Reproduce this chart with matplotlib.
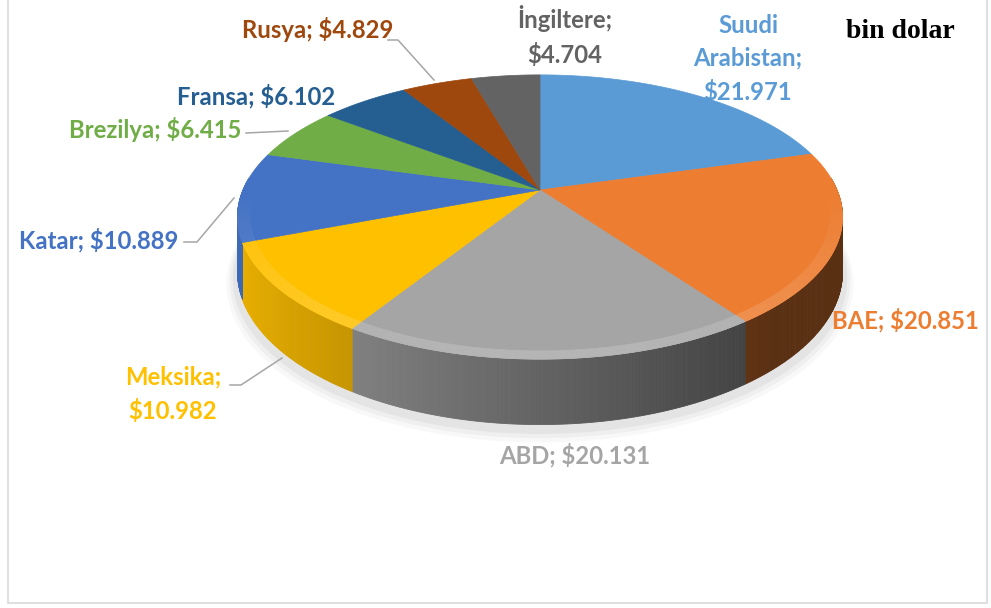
import matplotlib.pyplot as plt
from matplotlib.patches import Polygon, Rectangle
import numpy as np
import matplotlib.colors as mcolors

# --- DATA ---
countries = ['Suudi Arabistan', 'BAE', 'ABD', 'Meksika', 'Katar',
             'Brezilya', 'Fransa', 'Rusya', 'İngiltere']
values = [21.971, 20.851, 20.131, 10.982, 10.889, 6.415, 6.102, 4.829, 4.704]
label_texts = ['Suudi\nArabistan;\n$21.971', 'BAE; $20.851', 'ABD; $20.131',
               'Meksika;\n$10.982', 'Katar; $10.889', 'Brezilya; $6.415',
               'Fransa; $6.102', 'Rusya; $4.829', 'İngiltere;\n$4.704']
unit_text = 'bin dolar'

# --- STYLE / LAYOUT (pixel space) ---
colors = ['#5B9BD5', '#ED7D31', '#A5A5A5', '#FFC000', '#4472C4',
          '#70AD47', '#255E91', '#9E480E', '#636363']
label_xy = [(748, 59), (905, 320), (575, 455), (173, 394), (99, 240),
            (155, 130), (256, 96), (318, 30), (565, 36)]
leaders = {
    'Rusya': [(388, 40), (398, 40), (434, 80)],
    'Brezilya': [(246, 133), (288, 131)],
    'Katar': [(184, 242), (197, 242), (234, 198)],
    'Meksika': [(230, 385), (241, 385), (282, 358)],
}
W, H = 991, 608
CX, CY = 540, 190      # pie centre on screen
RX, RY = 297, 137      # radii of the top face
K = 0.19               # perspective strength
DEPTH = 53             # thickness of the pie


def proj(a_deg, r=1.0, z=0.0):
    a = np.radians(a_deg)
    s = 1.0 / (1.0 + K * r * np.sin(a))
    x = CX + RX * r * np.cos(a) * s
    y = CY - RY * r * np.sin(a) * s + z * DEPTH * s
    return x, y


def shade(c, f):
    rgb = np.array(mcolors.to_rgb(c))
    return tuple(np.clip(rgb * f, 0, 1))


def lighten(c, f):
    rgb = np.array(mcolors.to_rgb(c))
    return tuple(rgb + (1 - rgb) * f)


# slice angles, clockwise from 12 o'clock
fr = np.array(values) / sum(values)
ends = 90 - np.cumsum(fr) * 360
starts = np.concatenate([[90], ends[:-1]])

fig = plt.figure(figsize=(W / 100, H / 100), dpi=100)
ax = fig.add_axes([0, 0, 1, 1])
ax.set_xlim(0, W)
ax.set_ylim(H, 0)
ax.axis('off')

# chart frame
ax.add_patch(Rectangle((8, -5), 979, 608, fill=False, edgecolor='#D9D9D9', lw=1.2))

# soft shadow below the pie
full = np.linspace(0, 360, 200)
for grow, dy, al in [(1.035, 10, 0.05), (1.025, 8, 0.07), (1.015, 6, 0.09)]:
    xs, ys = proj(full, grow, 1.0)
    ax.add_patch(Polygon(np.column_stack([xs, ys + dy]), closed=True,
                         facecolor='#808080', edgecolor='none', alpha=al, zorder=1))

# sides (front half), thin strips for a horizontal gradient
for c, a0, a1 in zip(colors, starts, ends):
    lo, hi = max(a1, -185), min(a0, 5)
    if lo >= hi:
        continue
    angs = np.linspace(hi, lo, max(int((hi - lo) * 2), 2))
    for b0, b1 in zip(angs[:-1], angs[1:]):
        xt0, yt0 = proj(b0)
        xt1, yt1 = proj(b1)
        xb0, yb0 = proj(b0, 1.0, 1.0)
        xb1, yb1 = proj(b1, 1.0, 1.0)
        m = np.radians((b0 + b1) / 2)
        f = np.clip(0.6 - 0.33 * np.cos(m), 0.38, 0.92)
        col = shade(c, f)
        ax.add_patch(Polygon([(xt0, yt0), (xt1, yt1), (xb1, yb1), (xb0, yb0)],
                             closed=True, facecolor=col, edgecolor=col, lw=0.6, zorder=2))

# top faces
for c, a0, a1 in zip(colors, starts, ends):
    angs = np.linspace(a0, a1, 120)
    xs, ys = proj(angs)
    pts = np.column_stack([np.concatenate([[CX], xs]), np.concatenate([[CY], ys])])
    ax.add_patch(Polygon(pts, closed=True, facecolor=c, edgecolor=c, lw=0.5, zorder=3))
    # bevel highlight along the front rim
    lo, hi = max(a1, -185), min(a0, 5)
    if lo < hi:
        angs = np.linspace(hi, lo, max(int((hi - lo) * 2), 2))
        for b0, b1 in zip(angs[:-1], angs[1:]):
            m = np.radians((b0 + b1) / 2)
            k = max(-np.sin(m), 0)
            col = lighten(c, 0.18 * k)
            x0o, y0o = proj(b0)
            x1o, y1o = proj(b1)
            x0i, y0i = proj(b0, 0.96)
            x1i, y1i = proj(b1, 0.96)
            ax.add_patch(Polygon([(x0o, y0o), (x1o, y1o), (x1i, y1i), (x0i, y0i)],
                                 closed=True, facecolor=col, edgecolor=col, lw=0.5, zorder=4))

# labels
for name, txt, (x, y), c in zip(countries, label_texts, label_xy, colors):
    ax.text(x, y, txt, ha='center', va='center', color=c, fontsize=17.2,
            fontweight='bold', family='Lato', linespacing=1.5, zorder=6)
for pts in leaders.values():
    p = np.array(pts)
    ax.plot(p[:, 0], p[:, 1], color='#A6A6A6', lw=1.1, zorder=5)

ax.text(900, 32, unit_text, ha='center', va='center', fontsize=20,
        fontweight='bold', family='Liberation Serif', color='black')

fig.savefig('out.png', dpi=100)
